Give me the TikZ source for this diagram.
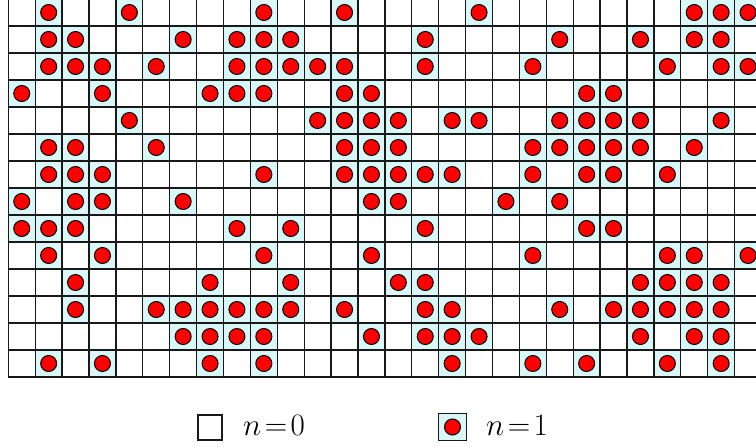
\documentclass[tikz,border=0pt]{standalone}
\usepackage{graphicx}
\definecolor{cellfill}{RGB}{217,247,247}
\definecolor{dotred}{RGB}{255,0,0}
\definecolor{gridcol}{RGB}{25,25,25}
\tikzset{
  gridline/.style={draw=gridcol, line width=1.3pt},
  occcell/.style={fill=cellfill},
  dot/.style={fill=dotred, draw=black, line width=1pt},
  legendbox/.style={draw=gridcol, line width=1.3pt},
  legendtext/.style={anchor=base west, inner sep=0pt, font=\fontsize{24.88}{30}\selectfont}
}
\begin{document}
\begin{tikzpicture}[x=1pt,y=-1pt]
\useasboundingbox (0,0) rectangle (756,447);
\begin{scope}
\clip (0,0) rectangle (756,447);
\def\cw{26.9}
\def\ch{27}
\def\xo{8.3}
\def\yo{-1}
% occupied cells
\foreach \r/\cols in {
  0/{1,4,9,12,17,25,26,27},
  1/{1,2,6,8,9,10,15,20,23,25,26},
  2/{1,2,3,5,8,9,10,11,12,15,19,24,26,27},
  3/{0,3,7,8,9,12,13,21,22},
  4/{4,11,12,13,14,16,17,20,21,22,23,26},
  5/{1,2,5,12,13,14,19,20,21,22,23,25},
  6/{1,2,3,9,12,13,14,15,16,19,21,22,24},
  7/{0,2,3,6,13,14,18,20},
  8/{0,1,2,8,10,15,21,22},
  9/{1,3,9,13,19,24,25,27},
  10/{2,7,10,14,15,23,24,25,26},
  11/{2,5,6,7,8,9,10,12,15,16,20,22,23,24,25,26},
  12/{6,7,8,9,13,15,16,17,23,25,26},
  13/{1,3,7,9,16,19,21,24,26}}{
  \foreach \c in \cols {
    \fill[occcell] ({\xo+\c*\cw},{\yo+\r*\ch}) rectangle ({\xo+(\c+1)*\cw},{\yo+(\r+1)*\ch});
  }
}
% grid lines
\foreach \i in {0,...,14} {
  \draw[gridline] (\xo,{\yo+\i*\ch}) -- ({\xo+28*\cw},{\yo+\i*\ch});
}
\foreach \j in {0,...,28} {
  \draw[gridline] ({\xo+\j*\cw},\yo) -- ({\xo+\j*\cw},{\yo+14*\ch});
}
% particles
\foreach \r/\cols in {
  0/{1,4,9,12,17,25,26,27},
  1/{1,2,6,8,9,10,15,20,23,25,26},
  2/{1,2,3,5,8,9,10,11,12,15,19,24,26,27},
  3/{0,3,7,8,9,12,13,21,22},
  4/{4,11,12,13,14,16,17,20,21,22,23,26},
  5/{1,2,5,12,13,14,19,20,21,22,23,25},
  6/{1,2,3,9,12,13,14,15,16,19,21,22,24},
  7/{0,2,3,6,13,14,18,20},
  8/{0,1,2,8,10,15,21,22},
  9/{1,3,9,13,19,24,25,27},
  10/{2,7,10,14,15,23,24,25,26},
  11/{2,5,6,7,8,9,10,12,15,16,20,22,23,24,25,26},
  12/{6,7,8,9,13,15,16,17,23,25,26},
  13/{1,3,7,9,16,19,21,24,26}}{
  \foreach \c in \cols {
    \draw[dot] ({\xo+(\c+0.5)*\cw},{\yo+(\r+0.5)*\ch}) circle[radius=8];
  }
}
\end{scope}
% legend
\draw[legendbox] (198,415) rectangle (222,440);
\node[legendtext] (t0) at (243,435) {\scalebox{1.25}{$n\!=\!0$}};
\fill[occcell] (438.5,413.5) rectangle (466.5,440.5);
\draw[legendbox] (438.5,413.5) rectangle (466.5,440.5);
\draw[dot] (452.5,427) circle[radius=8];
\node[legendtext] (t1) at (486,435) {\scalebox{1.25}{$n\!=\!1$}};
\end{tikzpicture}
\end{document}
